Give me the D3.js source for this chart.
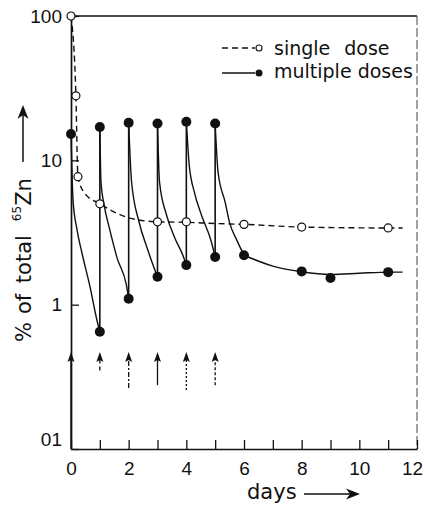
<!DOCTYPE html>
<html>
<head>
<meta charset="utf-8">
<script src="https://cdn.jsdelivr.net/npm/d3@7"></script>
<style>
  body { margin: 0; background: #fff; }
  svg { display: block; }
</style>
</head>
<body>
<div id="chart"></div>
<script>
// ticks
const dayTicks = [0, 1, 2, 3, 4, 5, 6, 7, 8, 9, 10, 11, 12]
const dayLabels = [0, 2, 4, 6, 8, 10, 12]
const percentTicks = [100, 10, 1, 0.1]
const percentLabels = ['100', '10', '1', '01']
const doseDays = [0, 1, 2, 3, 4, 5]

// single dose: measured points and the drawn curve
const singleDays = [0, 0.17, 0.24, 1, 3, 4, 6, 8, 11]
const singleValues = [100, 28, 7.7, 5.0, 3.75, 3.75, 3.6, 3.45, 3.4]
const singleCurveDays = [0, 0.17, 0.24, 0.48, 1, 2, 3, 4, 5, 6, 8, 11, 11.5]
const singleCurveValues = [100, 28, 7.7, 5.9, 5.0, 4.0, 3.75, 3.72, 3.65, 3.6, 3.45, 3.4, 3.4]

// multiple doses: measured points
const multiDays = [0, 1, 1, 2, 2, 3, 3, 4, 4, 5, 5, 6, 8, 9, 11]
const multiValues = [15.2, 0.65, 17, 1.1, 18.2, 1.56, 18, 1.88, 18.5, 2.14, 18, 2.2, 1.7, 1.53, 1.68]

// multiple doses: decay after each dose
const decayDays = [
  [0, 0.07, 0.21, 0.38, 0.66, 0.9, 1],
  [1, 1.04, 1.15, 1.33, 1.6, 1.92, 2],
  [2, 2.1, 2.36, 2.64, 2.88, 3],
  [3, 3.07, 3.31, 3.6, 3.88, 4],
  [4, 4.1, 4.28, 4.52, 4.87, 5],
  [5, 5.1, 5.35, 5.5, 5.75, 6],
  [6, 7, 8, 9, 10, 11, 11.5]
]
const decayValues = [
  [15.2, 5.3, 3.3, 2.28, 1.33, 0.78, 0.65],
  [17, 7.1, 4.9, 3.4, 2.1, 1.37, 1.1],
  [18.2, 7.1, 3.74, 2.47, 1.8, 1.56],
  [18, 7.1, 4.2, 2.9, 2.2, 1.88],
  [18.5, 9.3, 6.0, 4.2, 2.72, 2.14],
  [18, 8.3, 5.1, 3.7, 2.8, 2.2],
  [2.2, 1.85, 1.69, 1.62, 1.65, 1.68, 1.68]
]
// level of the low point before each dose, and the peak after it
const riseLow = [0.65, 1.1, 1.56, 1.88, 2.14]
const riseHigh = [17, 18.2, 18, 18.5, 18]

const MARGIN = { LEFT: 71, RIGHT: 8, TOP: 16, BOTTOM: 58 }
const WIDTH = 425 - MARGIN.LEFT - MARGIN.RIGHT
const HEIGHT = 507 - MARGIN.TOP - MARGIN.BOTTOM
const NUM_FONT = 'Liberation Sans, Arial, sans-serif'
const TXT_FONT = 'DejaVu Sans, sans-serif'

const svg = d3.select('#chart')
  .append('svg')
  .attr('width', 425)
  .attr('height', 507)

const g = svg.append('g')
  .attr('transform', `translate(${MARGIN.LEFT}, ${MARGIN.TOP})`)

const x = d3.scaleLinear().domain([0, 12]).range([0, WIDTH])
const y = d3.scaleLog().domain([0.1, 100]).range([HEIGHT, 0])

// frame (top and right)
g.append('line')
  .attr('x1', 0).attr('x2', WIDTH).attr('y1', 0).attr('y2', 0)
  .attr('stroke', '#111').attr('stroke-width', 1.4)
g.append('line')
  .attr('x1', WIDTH).attr('x2', WIDTH).attr('y1', 0).attr('y2', HEIGHT)
  .attr('stroke', '#444').attr('stroke-width', 1).attr('stroke-dasharray', '9,3')

// axes
const xAxisCall = d3.axisBottom(x)
  .tickValues(dayTicks)
  .tickSize(-9)
  .tickSizeOuter(0)
  .tickPadding(13)
  .tickFormat(d => dayLabels.includes(d) ? d : '')
const xAxis = g.append('g')
  .attr('transform', `translate(0, ${HEIGHT})`)
  .call(xAxisCall)

const yAxisCall = d3.axisLeft(y)
  .tickValues(percentTicks)
  .tickSize(-8)
  .tickSizeOuter(0)
  .tickPadding(9)
  .tickFormat((d, i) => percentLabels[i])
const yAxis = g.append('g').call(yAxisCall)

for (const ax of [xAxis, yAxis]) {
  ax.select('.domain').attr('stroke', '#111').attr('stroke-width', 1.7)
  ax.selectAll('.tick line').attr('stroke', '#111').attr('stroke-width', 1.3)
  ax.selectAll('.tick text')
    .attr('font-family', NUM_FONT)
    .attr('font-size', '19px')
    .attr('fill', '#111')
}
yAxis.selectAll('.tick text').filter(d => d === 0.1).attr('y', -10)
// last label sits at the window edge, nudge it in
xAxis.selectAll('.tick text').filter(d => d === 12).attr('x', -5)

// curves
const curve = d3.line()
  .x(d => x(d[0]))
  .y(d => y(d[1]))
  .curve(d3.curveMonotoneX)
const straight = d3.line()
  .x(d => x(d[0]))
  .y(d => y(d[1]))

g.append('path')
  .attr('d', curve(d3.zip(singleCurveDays, singleCurveValues)))
  .attr('fill', 'none')
  .attr('stroke', '#111')
  .attr('stroke-width', 1.4)
  .attr('stroke-dasharray', '6,4')

decayDays.forEach((ds, i) => {
  g.append('path')
    .attr('d', curve(d3.zip(ds, decayValues[i])))
    .attr('fill', 'none')
    .attr('stroke', '#111')
    .attr('stroke-width', 1.4)
})

riseLow.forEach((v, i) => {
  const day = doseDays[i + 1]
  g.append('path')
    .attr('d', straight([[day, v], [day, riseHigh[i]]]))
    .attr('fill', 'none')
    .attr('stroke', '#111')
    .attr('stroke-width', 1.6)
})

// points
g.selectAll('.single')
  .data(d3.zip(singleDays, singleValues))
  .enter()
  .append('circle')
  .attr('class', 'single')
  .attr('cx', d => x(d[0]))
  .attr('cy', d => y(d[1]))
  .attr('r', 4)
  .attr('fill', '#fff')
  .attr('stroke', '#111')
  .attr('stroke-width', 1.2)

g.selectAll('.multi')
  .data(d3.zip(multiDays, multiValues))
  .enter()
  .append('circle')
  .attr('class', 'multi')
  .attr('cx', d => x(d[0]))
  .attr('cy', d => y(d[1]))
  .attr('r', 5)
  .attr('fill', '#111')

// dose arrows
const arrowTip = y(0.47)
const arrowTail = [HEIGHT, y(0.35), y(0.265), y(0.277), y(0.256), y(0.277)]
const arrowDash = ['none', '4,3', '5,2,2,2', 'none', '2,2', '3,2']
doseDays.forEach((day, i) => {
  const ax = x(day)
  g.append('line')
    .attr('x1', ax).attr('x2', ax)
    .attr('y1', arrowTail[i]).attr('y2', arrowTip + 6)
    .attr('stroke', '#111')
    .attr('stroke-width', 1.3)
    .attr('stroke-dasharray', arrowDash[i])
  g.append('path')
    .attr('d', `M${ax},${arrowTip} L${ax - 3.5},${arrowTip + 10} L${ax},${arrowTip + 8} L${ax + 3.5},${arrowTip + 10} Z`)
    .attr('fill', '#111')
})

// legend
const legend = svg.append('g')
legend.append('line')
  .attr('x1', 222).attr('x2', 255).attr('y1', 48).attr('y2', 48)
  .attr('stroke', '#111').attr('stroke-width', 1.4).attr('stroke-dasharray', '6,4')
legend.append('circle')
  .attr('cx', 259).attr('cy', 48).attr('r', 3)
  .attr('fill', '#fff').attr('stroke', '#111').attr('stroke-width', 1.1)
legend.append('line')
  .attr('x1', 222).attr('x2', 255).attr('y1', 73).attr('y2', 73)
  .attr('stroke', '#111').attr('stroke-width', 1.4)
legend.append('circle')
  .attr('cx', 259).attr('cy', 73).attr('r', 3.5)
  .attr('fill', '#111')

const single = legend.append('text')
  .attr('x', 274).attr('y', 55)
  .attr('font-family', TXT_FONT).attr('font-size', '19px').attr('fill', '#111')
  .text('single')
single.append('tspan').attr('dx', 14).text('dose')
legend.append('text')
  .attr('x', 274).attr('y', 78)
  .attr('font-family', TXT_FONT).attr('font-size', '19px').attr('fill', '#111')
  .text('multiple doses')

// x label
svg.append('text')
  .attr('x', 247).attr('y', 499)
  .attr('font-family', TXT_FONT).attr('font-size', '21px').attr('fill', '#111')
  .text('days')
svg.append('line')
  .attr('x1', 304).attr('x2', 352).attr('y1', 494).attr('y2', 494)
  .attr('stroke', '#111').attr('stroke-width', 1.5)
svg.append('path')
  .attr('d', 'M360,494 L346,488.5 L350,494 L346,499.5 Z')
  .attr('fill', '#111')

// y label
const yLabel = svg.append('text')
  .attr('transform', 'translate(31, 342) rotate(-90)')
  .attr('font-family', TXT_FONT).attr('font-size', '21px').attr('fill', '#111')
  .text('%')
yLabel.append('tspan').attr('dx', 8).text('of')
yLabel.append('tspan').attr('dx', 11).text('total')
yLabel.append('tspan').attr('dx', 14).attr('dy', -10).attr('font-size', '12px').text('65')
yLabel.append('tspan').attr('dy', 10).text('Zn')
svg.append('line')
  .attr('x1', 23).attr('x2', 23).attr('y1', 162).attr('y2', 114)
  .attr('stroke', '#111').attr('stroke-width', 1.5)
svg.append('path')
  .attr('d', 'M23,105 L17.5,119 L23,115 L28.5,119 Z')
  .attr('fill', '#111')
</script>
</body>
</html>
